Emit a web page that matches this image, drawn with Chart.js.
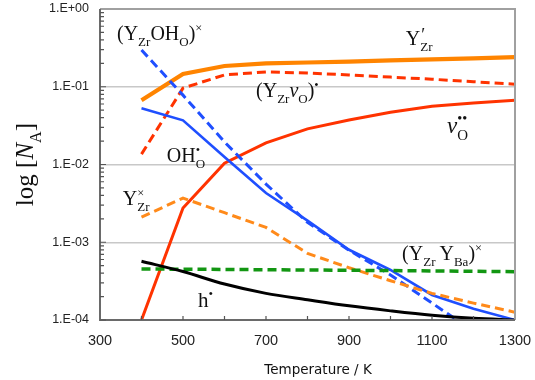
<!DOCTYPE html>
<html>
<head>
<meta charset="utf-8">
<script src="https://cdn.jsdelivr.net/npm/chart.js@4.4.1/dist/chart.umd.min.js"></script>
<style>
  html, body { margin: 0; padding: 0; background: #fff; }
</style>
</head>
<body>
<canvas id="chart" width="535" height="380"></canvas>
<script>
// temperatures (K) and defect concentrations
const temps = [400, 500, 600, 700, 800, 900, 1000, 1100, 1200, 1300];
const yZrPrime = [0.067, 0.146, 0.185, 0.200, 0.205, 0.210, 0.218, 0.225, 0.232, 0.240];
const yZrVo = [0.0136, 0.096, 0.142, 0.155, 0.150, 0.142, 0.133, 0.125, 0.116, 0.108];
const vO = [0.0001, 0.00275, 0.0104, 0.019, 0.0287, 0.0373, 0.047, 0.056, 0.062, 0.067];
const yZrOhO = [0.297, 0.078, 0.0195, 0.0056, 0.0018, 0.00079, 0.00038, 0.000165, 0.000072, null];
const ohO = [0.053, 0.037, 0.0125, 0.0043, 0.0019, 0.0008, 0.00044, 0.00021, 0.00014, 0.0001];
const yZrX = [0.0021, 0.0037, 0.0024, 0.00155, 0.00072, 0.00047, 0.00032, 0.00022, 0.000165, 0.000126];
const yZrYBa = [0.000453, 0.00045, 0.000447, 0.000443, 0.00044, 0.000436, 0.000432, 0.000428, 0.000423, 0.000418];
const holes = [0.00057, 0.00042, 0.00029, 0.00022, 0.000182, 0.000152, 0.000131, 0.000115, 0.000105, 0.0001];

const serif = '"Liberation Serif", "Times New Roman", serif';

function pts(vals) {
    return temps.map((t, i) => ({x: t, y: vals[i]}));
}

// labels next to the curves, anchored in data units (temperature, value)
const notes = [
    {T: 341, v: 0.399, parts: [{t: '('}, {t: 'Y'}, {t: 'Zr', sub: 1}, {t: 'OH'}, {t: 'O', sub: 1}, {t: ')'}, {t: '\u00d7', sup: 1}]},
    {T: 1037, v: 0.344, parts: [{t: 'Y'}, {t: '\u2032', sup: 1, keep: 1, dx: 1, big: 1}, {t: 'Zr', sub: 1}]},
    {T: 676, v: 0.0738, parts: [{t: '('}, {t: 'Y'}, {t: 'Zr', sub: 1}, {t: 'v', it: 1}, {t: 'O', sub: 1}, {t: ')'}, {t: '\u2022', sup: 1}]},
    {T: 1136, v: 0.0254, fs: 23, parts: [{t: 'v', it: 1}, {t: '\u2022\u2022', sup: 1, keep: 1}, {t: 'O', sub: 1}]},
    {T: 461, v: 0.01077, parts: [{t: 'OH'}, {t: '\u2022', sup: 1, keep: 1}, {t: 'O', sub: 1}]},
    {T: 355, v: 0.00301, parts: [{t: 'Y'}, {t: '\u00d7', sup: 1, keep: 1}, {t: 'Zr', sub: 1}]},
    {T: 1028, v: 0.000591, parts: [{t: '('}, {t: 'Y'}, {t: 'Zr', sub: 1}, {t: '\u2009'}, {t: 'Y'}, {t: 'Ba', sub: 1}, {t: ')'}, {t: '\u00d7', sup: 1}]},
    {T: 536, v: 0.000147, fs: 21, parts: [{t: 'h'}, {t: '\u2022', sup: 1}]}
];

function drawRich(ctx, x, y, parts, fs, measureOnly) {
    let cx = x;
    parts.forEach(p => {
        let size = fs, dy = 0;
        if (p.sub) { size = fs * 0.65; dy = fs * 0.3; }
        if (p.sup) { size = fs * (p.big ? 0.9 : 0.62); dy = -fs * (p.big ? 0.2 : 0.42); }
        ctx.font = (p.it ? 'italic ' : '') + size + 'px ' + serif;
        if (!measureOnly) ctx.fillText(p.t, cx + (p.dx || 0), y + dy);
        if (!p.keep) cx += ctx.measureText(p.t).width;
    });
    return cx - x;
}

function isDecade(v) {
    let l = Math.log10(v);
    return Math.abs(l - Math.round(l)) < 1e-9;
}

const decorPlugin = {
    id: 'decor',
    afterDatasetsDraw(chart) {
        let ctx = chart.ctx;
        let a = chart.chartArea;
        let xs = chart.scales.x, ys = chart.scales.y;
        ctx.save();

        // frame
        ctx.lineWidth = 2;
        ctx.strokeStyle = '#a0a0a0';
        ctx.beginPath();
        ctx.moveTo(a.left, a.top); ctx.lineTo(a.right, a.top); ctx.lineTo(a.right, a.bottom);
        ctx.stroke();
        ctx.strokeStyle = '#6a6a6a';
        ctx.beginPath();
        ctx.moveTo(a.left, a.top); ctx.lineTo(a.left, a.bottom); ctx.lineTo(a.right, a.bottom);
        ctx.stroke();

        // inside ticks
        ctx.lineWidth = 1.2;
        ctx.strokeStyle = '#555';
        ctx.beginPath();
        for (let e = -4; e < 0; e++) {
            for (let m = 1; m <= 9; m++) {
                let py = ys.getPixelForValue(m * Math.pow(10, e));
                ctx.moveTo(a.left, py); ctx.lineTo(a.left + (m === 1 ? 6 : 4), py);
            }
        }
        for (let t = 400; t < 1300; t += 100) {
            let px = xs.getPixelForValue(t);
            ctx.moveTo(px, a.bottom); ctx.lineTo(px, a.bottom - 4);
        }
        ctx.stroke();

        // curve labels
        ctx.fillStyle = '#111';
        ctx.textBaseline = 'alphabetic';
        ctx.textAlign = 'left';
        notes.forEach(n => {
            drawRich(ctx, xs.getPixelForValue(n.T), ys.getPixelForValue(n.v), n.parts, n.fs || 20);
        });

        // y axis title
        let yParts = [{t: 'log ['}, {t: 'N', it: 1}, {t: 'A', sub: 1}, {t: ']'}];
        let w = drawRich(ctx, 0, 0, yParts, 25, true);
        ctx.translate(a.left - 67, (a.top + a.bottom) / 2);
        ctx.rotate(-Math.PI / 2);
        drawRich(ctx, -w / 2, 0, yParts, 25);
        ctx.restore();

        // x axis title
        ctx.save();
        ctx.fillStyle = '#111';
        ctx.font = '13.5px "DejaVu Sans", sans-serif';
        ctx.textAlign = 'center';
        ctx.fillText('Temperature / K', a.left + 218, a.bottom + 54);
        ctx.restore();
    }
};

const solid = (label, vals, color, width) => ({
    label: label, data: pts(vals), borderColor: color, borderWidth: width,
    pointRadius: 0, fill: false, spanGaps: false
});
const dashed = (label, vals, color, width) => Object.assign(solid(label, vals, color, width), {borderDash: [9, 5]});
const smooth = ds => Object.assign(ds, {cubicInterpolationMode: 'monotone'});

new Chart(document.getElementById('chart').getContext('2d'), {
    type: 'line',
    data: {
        datasets: [
            smooth(solid('h', holes, '#000000', 3)),
            dashed('YZrYBa', yZrYBa, '#129612', 3.5),
            dashed('YZrX', yZrX, '#ff8a1a', 3),
            solid('OHO', ohO, '#1f4fff', 2.6),
            dashed('YZrOHO', yZrOhO, '#1f4fff', 3),
            solid('vO', vO, '#ff3300', 3),
            dashed('YZrvO', yZrVo, '#ff3300', 3),
            solid('YZr', yZrPrime, '#ff8400', 4.2)
        ]
    },
    options: {
        responsive: false,
        animation: false,
        layout: {padding: {top: 9, right: 20, left: 0, bottom: 0}},
        plugins: {legend: {display: false}, tooltip: {enabled: false}},
        scales: {
            x: {
                type: 'linear', min: 300, max: 1300,
                afterFit: s => { s.height = 60; s.paddingLeft = 0; s.paddingRight = 0; },
                border: {display: false},
                grid: {display: false, drawTicks: false},
                ticks: {
                    stepSize: 100, autoSkip: false, maxRotation: 0, padding: 12,
                    color: '#222', font: {family: '"Liberation Sans", Arial', size: 14.5},
                    callback: v => (v % 200 === 100 ? v : '')
                }
            },
            y: {
                type: 'logarithmic', min: 0.0001, max: 1,
                afterFit: s => { s.width = 100; s.paddingTop = 0; s.paddingBottom = 0; },
                border: {display: false},
                grid: {
                    drawTicks: false, lineWidth: 1.5,
                    color: c => (c.tick && isDecade(c.tick.value) ? '#c8c8c8' : 'rgba(0,0,0,0)')
                },
                ticks: {
                    autoSkip: false, padding: 11,
                    color: '#222', font: {family: '"Liberation Sans", Arial', size: 12.5},
                    callback: v => {
                        if (!isDecade(v)) return '';
                        let e = Math.round(Math.log10(v));
                        return '1.E' + (e < 0 ? '-' : '+') + String(Math.abs(e)).padStart(2, '0');
                    }
                }
            }
        }
    },
    plugins: [decorPlugin]
});
</script>
</body>
</html>
